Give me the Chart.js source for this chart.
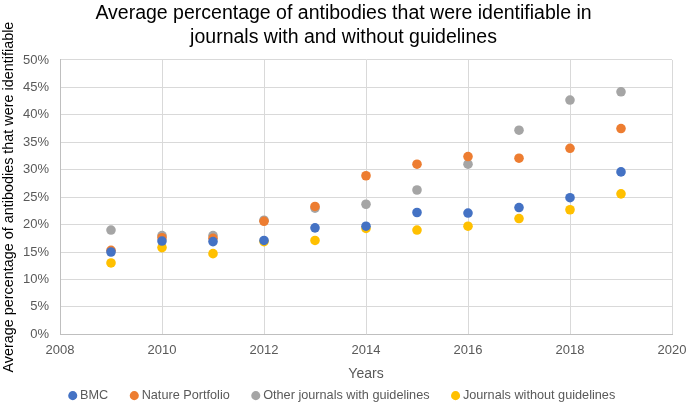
<!DOCTYPE html>
<html>
<head>
<meta charset="utf-8">
<script src="https://cdn.jsdelivr.net/npm/chart.js@4/dist/chart.umd.min.js"></script>
<style>
  html, body { margin: 0; padding: 0; background: #fff; }
  #wrap { width: 687px; height: 402px; }
</style>
</head>
<body>
<div id="wrap"><canvas id="grafico"></canvas></div>
<script>
// ===== Dados =====
const anos = [2009, 2010, 2011, 2012, 2013, 2014, 2015, 2016, 2017, 2018, 2019];
const bmc = [15.0, 17.0, 16.9, 17.1, 19.4, 19.7, 22.2, 22.1, 23.1, 24.9, 29.6];
const nature = [15.3, 17.6, 17.5, 20.6, 23.3, 28.9, 31.0, 32.4, 32.1, 33.9, 37.5];
const outras = [19.0, 18.0, 18.0, 20.8, 23.0, 23.7, 26.3, 31.0, 37.2, 42.7, 44.2];
const semGuia = [13.0, 15.8, 14.7, 16.9, 17.1, 19.3, 19.0, 19.7, 21.1, 22.7, 25.6];

const series = [
  { label: 'BMC', valores: bmc, cor: '#4472C4' },
  { label: 'Nature Portfolio', valores: nature, cor: '#ED7D31' },
  { label: 'Other journals with guidelines', valores: outras, cor: '#A5A5A5' },
  { label: 'Journals without guidelines', valores: semGuia, cor: '#FFC000' },
];

const FONTE = "'Liberation Sans', Arial, sans-serif";
const CINZA_TEXTO = '#595959';

const ctx = document.getElementById('grafico');

new Chart(ctx, {
  type: 'scatter',
  data: {
    datasets: series.map((s) => ({
      label: s.label,
      data: anos.map((a, i) => ({ x: a, y: s.valores[i] / 100 })),
      backgroundColor: s.cor,
      borderColor: s.cor,
      pointRadius: 4.8,
      pointHoverRadius: 5,
      borderWidth: 0,
    })),
  },
  options: {
    responsive: true,
    maintainAspectRatio: false,
    animation: false,
    layout: { padding: { left: 0, right: 0, top: 0, bottom: -10 } },
    plugins: {
      title: {
        display: true,
        text: ['Average percentage of antibodies that were identifiable in', 'journals with and without guidelines'],
        color: '#000',
        font: { family: FONTE, size: 19.5, weight: 'normal', lineHeight: 1.23 },
        padding: { top: 2, bottom: 10 },
      },
      legend: {
        position: 'bottom',
        labels: {
          usePointStyle: true,
          pointStyle: 'circle',
          boxWidth: 2,
          boxHeight: 6.4,
          padding: 25,
          color: CINZA_TEXTO,
          font: { family: FONTE, size: 12.7 },
        },
      },
      tooltip: { enabled: false },
    },
    scales: {
      x: {
        type: 'linear',
        min: 2008,
        max: 2020,
        afterFit: (s) => { s.height = 30; s.paddingLeft = 0; s.paddingRight = 15; },
        ticks: { stepSize: 2, color: CINZA_TEXTO, font: { family: FONTE, size: 13 }, padding: 8,
          callback: (v) => String(v) },
        grid: { color: '#D9D9D9', lineWidth: 1, drawTicks: false },
        border: { color: '#BFBFBF' },
        title: { display: true, text: 'Years', color: CINZA_TEXTO, font: { family: FONTE, size: 14 }, padding: { top: 3, bottom: -18 } },
      },
      y: {
        min: 0,
        max: 0.5,
        afterFit: (s) => { s.width = 60; },
        ticks: { stepSize: 0.05, color: CINZA_TEXTO, font: { family: FONTE, size: 13 }, padding: 11,
          callback: (v) => Math.round(v * 100) + '%' },
        grid: { color: '#D9D9D9', lineWidth: 1, drawTicks: false },
        border: { color: '#BFBFBF' },
        title: { display: true, text: 'Average percentage of antibodies that were identifiable', color: '#000', font: { family: FONTE, size: 14.4 }, padding: { top: 0, bottom: 0 } },
      },
    },
  },
});
</script>
</body>
</html>
